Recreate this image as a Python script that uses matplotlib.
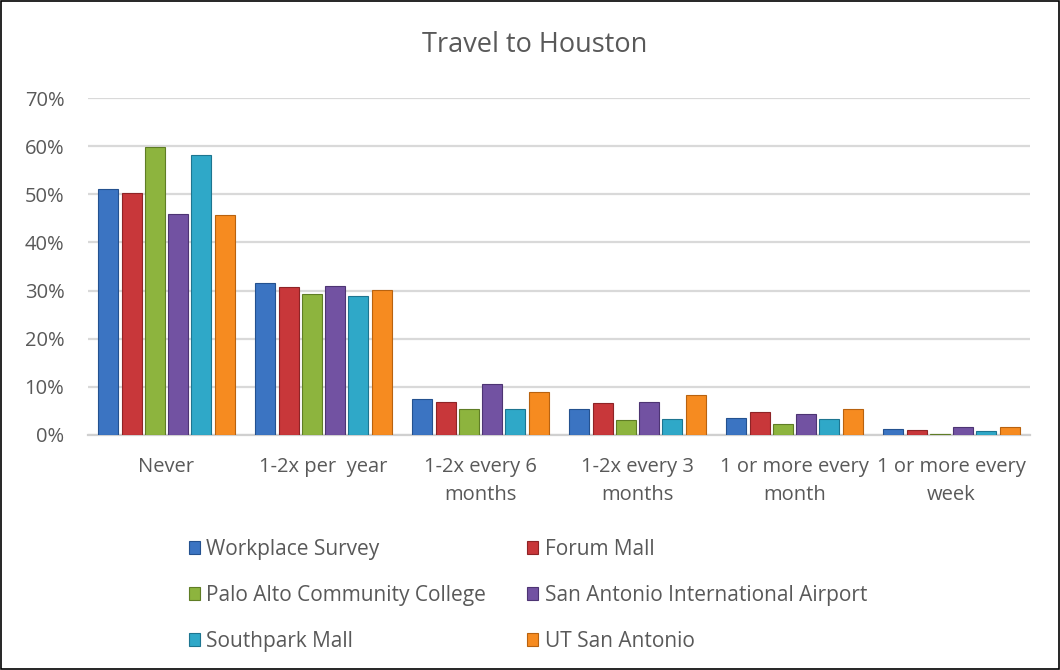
import matplotlib
matplotlib.use("Agg")
import matplotlib.pyplot as plt
import numpy as np

categories = ["Never", "1-2x per  year", "1-2x every 6\nmonths", "1-2x every 3\nmonths",
              "1 or more every\nmonth", "1 or more every\nweek"]
series_names = ["Workplace Survey", "Forum Mall", "Palo Alto Community College",
                "San Antonio International Airport", "Southpark Mall", "UT San Antonio"]
workplace = [51.0, 31.5, 7.5, 5.3, 3.6, 1.2]
forum = [50.2, 30.7, 6.9, 6.6, 4.8, 1.0]
palo_alto = [59.8, 29.3, 5.5, 3.2, 2.2, 0.3]
airport = [46.0, 31.0, 10.6, 6.9, 4.3, 1.6]
southpark = [58.2, 28.9, 5.5, 3.4, 3.4, 0.9]
utsa = [45.6, 30.1, 9.0, 8.4, 5.5, 1.6]
yticks = [0, 10, 20, 30, 40, 50, 60, 70]

series = [workplace, forum, palo_alto, airport, southpark, utsa]
colors = ["#3B74C2", "#C8373A", "#8DB43E", "#7252A2", "#2FA8C8", "#F68B20"]
edges = ["#24518F", "#8E2426", "#5F7D25", "#4D3473", "#1D7590", "#B8620F"]
txt = "#595959"

plt.rcParams['font.family'] = ['Open Sans', 'DejaVu Sans']
fig = plt.figure(figsize=(10.6, 6.7), dpi=100)
ax = fig.add_axes([88/1060, 1 - 435/670, (1030-88)/1060, (435-98)/670])

x = np.arange(len(categories))
n = len(series)
slot = 0.148
bw = 0.128
handles = []
for i, (vals, c, e) in enumerate(zip(series, colors, edges)):
    h = ax.bar(x + (i - (n - 1) / 2) * slot, vals, width=bw, color=c, edgecolor=e,
               linewidth=0.8, label=series_names[i], zorder=3)
    handles.append(h)

ax.set_xlim(-0.5, len(categories) - 0.5)
ax.set_ylim(0, 70)
ax.set_yticks(yticks)
ax.set_yticklabels([f"{t}%" for t in yticks], fontsize=14.5, color=txt)
ax.set_xticks(x)
ax.set_xticklabels(categories, fontsize=14.5, color=txt, linespacing=1.55)
ax.tick_params(axis='x', length=0, pad=16)
ax.tick_params(axis='y', length=0, pad=17)
ax.grid(axis='y', color="#D9D9D9", linewidth=1.6, zorder=0)
for s in ["top", "right", "left"]:
    ax.spines[s].set_visible(False)
ax.spines["bottom"].set_color("#D0D0D0")
ax.spines["bottom"].set_linewidth(1.6)

fig.text(535/1060, 1 - 45/670, "Travel to Houston", ha="center", va="center",
         fontsize=19.5, color=txt)

order = [0, 2, 4, 1, 3, 5]
leg = fig.legend([handles[k] for k in order], [series_names[k] for k in order],
                 ncol=2, loc="upper left",
                 bbox_to_anchor=(170/1060, 1 - 520/670), frameon=False,
                 fontsize=15, labelcolor=txt, handlelength=0.55,
                 handleheight=0.55, handletextpad=0.3, columnspacing=1.95,
                 labelspacing=1.2)

border = plt.Rectangle((0.001, 0.001), 0.998, 0.997, transform=fig.transFigure,
                       fill=False, edgecolor="black", linewidth=1.2)
fig.patches.append(border)

fig.savefig("out.png", dpi=100)
